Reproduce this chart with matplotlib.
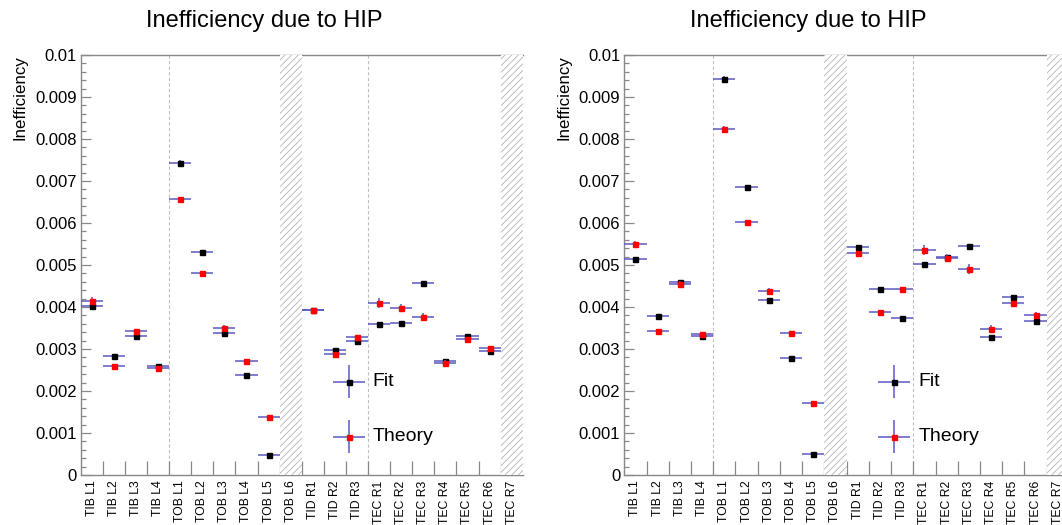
# -*- coding: utf-8 -*-
# Inefficiency due to HIP, fit vs theory, two run periods side by side

import numpy as np
import matplotlib
matplotlib.use('Agg')
import matplotlib.pyplot as plt
from matplotlib.patches import Rectangle

plt.rcParams['font.family'] = ['Liberation Sans', 'DejaVu Sans']
plt.rcParams['hatch.linewidth'] = 0.6

nan = np.nan

layers = ['TIB L1', 'TIB L2', 'TIB L3', 'TIB L4',
          'TOB L1', 'TOB L2', 'TOB L3', 'TOB L4', 'TOB L5', 'TOB L6',
          'TID R1', 'TID R2', 'TID R3',
          'TEC R1', 'TEC R2', 'TEC R3', 'TEC R4', 'TEC R5', 'TEC R6', 'TEC R7']
empty_layers = ['TOB L6', 'TEC R7']

# left plot
fit_a = [0.00402, 0.00283, 0.00330, 0.00259, 0.00744, 0.00530, 0.00337, 0.00237, 0.00048, nan,
         0.00394, 0.00298, 0.00318, 0.00360, 0.00363, 0.00456, 0.00271, 0.00330, 0.00295, nan]
fit_a_err = [0.00005, 0.00003, 0.00005, 0.00003, 0.00005, 0.00005, 0.00005, 0.00003, 0.00002, nan,
             0.00003, 0.00004, 0.00004, 0.00003, 0.00003, 0.00003, 0.00004, 0.00004, 0.00004, nan]
theo_a = [0.00415, 0.00259, 0.00343, 0.00255, 0.00656, 0.00481, 0.00350, 0.00271, 0.00138, nan,
          0.00392, 0.00287, 0.00329, 0.00410, 0.00398, 0.00376, 0.00267, 0.00324, 0.00302, nan]
theo_a_err = [0.00008, 0.00003, 0.00005, 0.00004, 0.00004, 0.00004, 0.00006, 0.00004, 0.00003, nan,
              0.00004, 0.00004, 0.00005, 0.00012, 0.00010, 0.00010, 0.00008, 0.00005, 0.00006, nan]

# right plot
fit_b = [0.00514, 0.00379, 0.00460, 0.00332, 0.00942, 0.00686, 0.00417, 0.00279, 0.00050, nan,
         0.00542, 0.00443, 0.00373, 0.00502, 0.00518, 0.00545, 0.00328, 0.00424, 0.00366, nan]
fit_b_err = [0.00005, 0.00003, 0.00004, 0.00004, 0.00007, 0.00004, 0.00005, 0.00003, 0.00002, nan,
             0.00003, 0.00003, 0.00004, 0.00003, 0.00003, 0.00003, 0.00004, 0.00004, 0.00004, nan]
theo_b = [0.00550, 0.00344, 0.00455, 0.00336, 0.00825, 0.00602, 0.00438, 0.00338, 0.00171, nan,
          0.00529, 0.00388, 0.00443, 0.00536, 0.00517, 0.00490, 0.00347, 0.00409, 0.00380, nan]
theo_b_err = [0.00006, 0.00004, 0.00006, 0.00004, 0.00006, 0.00005, 0.00007, 0.00005, 0.00003, nan,
              0.00004, 0.00003, 0.00003, 0.00012, 0.00010, 0.00012, 0.00009, 0.00006, 0.00007, nan]

ytick_vals = [0, 0.001, 0.002, 0.003, 0.004, 0.005, 0.006, 0.007, 0.008, 0.009, 0.01]
ytick_labels = ['0', '0.001', '0.002', '0.003', '0.004', '0.005',
                '0.006', '0.007', '0.008', '0.009', '0.01']

W, H = 1062., 525.
ERRCOL = '#5a5ac0'
GRAY = '#888888'


def _draw_panel(fig, rect, fit, fit_err, theo, theo_err):
    ax = fig.add_axes(rect)
    n = len(layers)
    x = np.arange(n) + 0.5

    # points: horizontal bar = bin width
    ax.errorbar(x, fit, xerr=0.5, yerr=fit_err, fmt='s', color='black', ms=3.6,
                ecolor=ERRCOL, elinewidth=1.1, capsize=0, zorder=4)
    ax.errorbar(x, theo, xerr=0.5, yerr=theo_err, fmt='s', color='red', ms=3.6,
                ecolor=ERRCOL, elinewidth=1.1, capsize=0, zorder=5)

    # empty (hatched) bins, white underneath so they hide the frame
    for name in empty_layers:
        i = layers.index(name)
        ax.add_patch(Rectangle((i, 0), 1, 0.01, facecolor='white', edgecolor='none',
                               zorder=6, clip_on=False))
        ax.add_patch(Rectangle((i, 0), 1, 0.01, facecolor='none', edgecolor='#b4b4b4',
                               linewidth=0, hatch='/////', zorder=7, clip_on=False))

    # subdetector separators
    for edge in [4, 13]:
        ax.axvline(edge, color='#c0c0c0', lw=0.8, ls=(0, (3, 2)), zorder=1)

    ax.set_xlim(0, n)
    ax.set_ylim(0, 0.01)

    ax.set_xticks(np.arange(1, n))
    ax.set_xticklabels([])
    ax.set_xticks(x, minor=True)
    ax.set_xticklabels(layers, minor=True, rotation=90, fontsize=8.8, va='top')
    ax.tick_params(axis='x', which='major', direction='in', length=10, width=0.9, color=GRAY)
    ax.tick_params(axis='x', which='minor', length=0, pad=4)

    ax.set_yticks(ytick_vals)
    ax.set_yticklabels(ytick_labels, fontsize=12)
    ax.set_yticks(np.arange(0, 0.01001, 0.0002), minor=True)
    ax.tick_params(axis='y', which='major', direction='in', length=7.5, width=0.9, color=GRAY, pad=3)
    ax.tick_params(axis='y', which='minor', direction='in', length=3.8, width=0.9, color=GRAY)

    for side in ['left', 'top', 'bottom']:
        ax.spines[side].set_color(GRAY)
        ax.spines[side].set_linewidth(1.0)
    ax.spines['right'].set_visible(False)

    # legend, drawn by hand in axes coordinates
    for yy, col, name in [(0.222, 'black', 'Fit'), (0.091, 'red', 'Theory')]:
        ax.errorbar([0.607], [yy], xerr=0.036, yerr=0.039, fmt='s', color=col, ms=3.6,
                    ecolor=ERRCOL, elinewidth=1.1, capsize=0, transform=ax.transAxes,
                    clip_on=False, zorder=5)
        ax.text(0.661, yy, name, transform=ax.transAxes, fontsize=14, va='center', ha='left')
    return ax


fig = plt.figure(figsize=(W / 100, H / 100), dpi=100)

panels = [(80.7, 442.0, fit_a, fit_a_err, theo_a, theo_a_err),
          (624.3, 444.6, fit_b, fit_b_err, theo_b, theo_b_err)]

for x0, w, f, fe, t, te in panels:
    _draw_panel(fig, [x0 / W, 50 / H, w / W, 420 / H], f, fe, t, te)
    fig.text((x0 + 183.5) / W, 1 - 21.5 / H, 'Inefficiency due to HIP', fontsize=17,
             ha='center', va='center')
    fig.text((x0 - 60.5) / W, 1 - 55 / H, 'Inefficiency', fontsize=12.2, rotation=90,
             ha='center', va='top')

fig.savefig('out.png', dpi=100)
